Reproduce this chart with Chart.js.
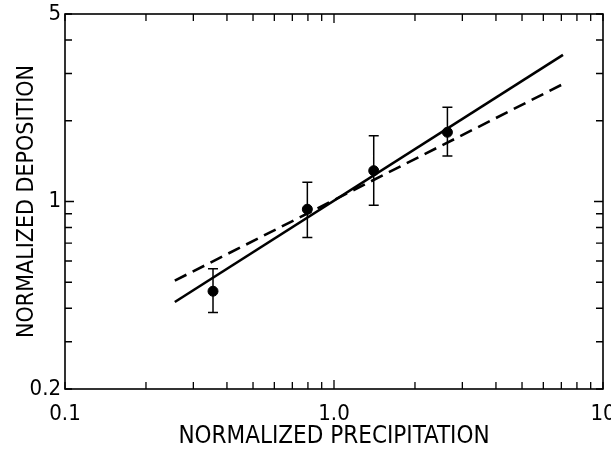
<!DOCTYPE html>
<html lang="en">
<head>
<meta charset="UTF-8">
<title>Normalized deposition vs precipitation</title>
<script src="https://cdn.jsdelivr.net/npm/chart.js@4.4.1/dist/chart.umd.min.js"></script>
<style>
  body { margin: 0; background: #fff; }
  #wrap { width: 611px; height: 453px; }
</style>
</head>
<body>
<div id="wrap"><canvas id="myChart"></canvas></div>
<script>
// measured points with error bars
const precip = [0.355, 0.796, 1.405, 2.64];
const deposition = [0.463, 0.936, 1.303, 1.812];
const errLow = [0.386, 0.734, 0.969, 1.478];
const errHigh = [0.561, 1.18, 1.76, 2.245];

// fitted lines (end points)
const fitX = [0.256, 7.1];
const solidFit = [0.422, 3.52];
const dashedFit = [0.507, 2.74];

// axis ticks
const xTicks = [0.1, 0.2, 0.3, 0.4, 0.5, 0.6, 0.7, 0.8, 0.9, 1, 2, 3, 4, 5, 6, 7, 8, 9, 10];
const xTickLabels = { 0.1: '0.1', 1: '1.0', 10: '10' };
const yTicks = [0.2, 0.3, 0.4, 0.5, 0.6, 0.7, 0.8, 0.9, 1, 2, 3, 4, 5];
const yTickLabels = { 0.2: '0.2', 1: '1', 5: '5' };

const FONT = "'Liberation Sans Narrow', 'DejaVu Sans Condensed', sans-serif";

const toXY = (xs, ys) => xs.map((x, i) => ({ x: x, y: ys[i] }));

// frame + inward tick marks on all four sides
const frameTicks = {
    id: 'frameTicks',
    afterDraw(chart) {
        const { ctx, chartArea: a, scales } = chart;
        ctx.save();
        ctx.strokeStyle = '#000';
        ctx.lineWidth = 1.6;
        ctx.strokeRect(a.left, a.top, a.right - a.left, a.bottom - a.top);
        ctx.lineWidth = 1.3;
        ctx.beginPath();
        xTicks.forEach(v => {
            const px = scales.x.getPixelForValue(v);
            const len = (v === 1) ? 9 : 7;
            ctx.moveTo(px, a.bottom); ctx.lineTo(px, a.bottom - len);
            ctx.moveTo(px, a.top); ctx.lineTo(px, a.top + len);
        });
        yTicks.forEach(v => {
            const py = scales.y.getPixelForValue(v);
            const len = (v === 1) ? 9 : 7;
            ctx.moveTo(a.left, py); ctx.lineTo(a.left + len, py);
            ctx.moveTo(a.right, py); ctx.lineTo(a.right - len, py);
        });
        ctx.stroke();
        ctx.restore();
    }
};

// vertical error bars with caps
const errorBars = {
    id: 'errorBars',
    afterDatasetsDraw(chart) {
        const { ctx, scales } = chart;
        ctx.save();
        ctx.strokeStyle = '#000';
        ctx.lineWidth = 1.5;
        ctx.beginPath();
        precip.forEach((x, i) => {
            const px = scales.x.getPixelForValue(x);
            const lo = scales.y.getPixelForValue(errLow[i]);
            const hi = scales.y.getPixelForValue(errHigh[i]);
            ctx.moveTo(px, lo); ctx.lineTo(px, hi);
            ctx.moveTo(px - 5, lo); ctx.lineTo(px + 5, lo);
            ctx.moveTo(px - 5, hi); ctx.lineTo(px + 5, hi);
        });
        ctx.stroke();
        ctx.restore();
    }
};

const ctx = document.getElementById('myChart').getContext('2d');
const myChart = new Chart(ctx, {
    type: 'scatter',
    data: {
        datasets: [{
            label: 'Measured',
            data: toXY(precip, deposition),
            backgroundColor: '#000',
            borderColor: '#000',
            pointRadius: 5,
            order: 0
        }, {
            label: 'Fit (solid)',
            data: toXY(fitX, solidFit),
            showLine: true,
            borderColor: '#000',
            borderWidth: 2.6,
            pointRadius: 0,
            order: 1
        }, {
            label: 'Fit (dashed)',
            data: toXY(fitX, dashedFit),
            showLine: true,
            borderColor: '#000',
            borderWidth: 2.6,
            borderDash: [13, 7],
            pointRadius: 0,
            order: 2
        }]
    },
    options: {
        responsive: true,
        maintainAspectRatio: false,
        animation: false,
        layout: { padding: { left: 0, top: 14, right: 8, bottom: 0 } },
        plugins: {
            legend: { display: false },
            tooltip: { enabled: false }
        },
        scales: {
            x: {
                type: 'logarithmic',
                min: 0.1,
                max: 10,
                grid: { display: false, drawTicks: false, tickLength: 0 },
                border: { display: false },
                afterBuildTicks: s => { s.ticks = xTicks.map(v => ({ value: v })); },
                afterFit: s => { s.height = 64; s.paddingLeft = 0; s.paddingRight = 0; },
                ticks: {
                    autoSkip: false,
                    maxRotation: 0,
                    padding: 12,
                    color: '#000',
                    font: { family: FONT, size: 22 },
                    callback: v => xTickLabels[v] || ''
                },
                title: {
                    display: true,
                    text: 'NORMALIZED PRECIPITATION',
                    color: '#000',
                    font: { family: FONT, size: 24 },
                    padding: { top: 0, bottom: 2 }
                }
            },
            y: {
                type: 'logarithmic',
                min: 0.2,
                max: 5,
                grid: { display: false, drawTicks: false, tickLength: 0 },
                border: { display: false },
                afterBuildTicks: s => { s.ticks = yTicks.map(v => ({ value: v })); },
                afterFit: s => { s.width = 65; s.paddingTop = 0; s.paddingBottom = 0; },
                ticks: {
                    autoSkip: false,
                    padding: 4,
                    color: '#000',
                    font: { family: FONT, size: 22 },
                    callback: v => yTickLabels[v] || ''
                },
                title: {
                    display: true,
                    text: 'NORMALIZED DEPOSITION',
                    color: '#000',
                    font: { family: FONT, size: 23 },
                    padding: { top: 13, bottom: 0 }
                }
            }
        }
    },
    plugins: [frameTicks, errorBars]
});
</script>
</body>
</html>
